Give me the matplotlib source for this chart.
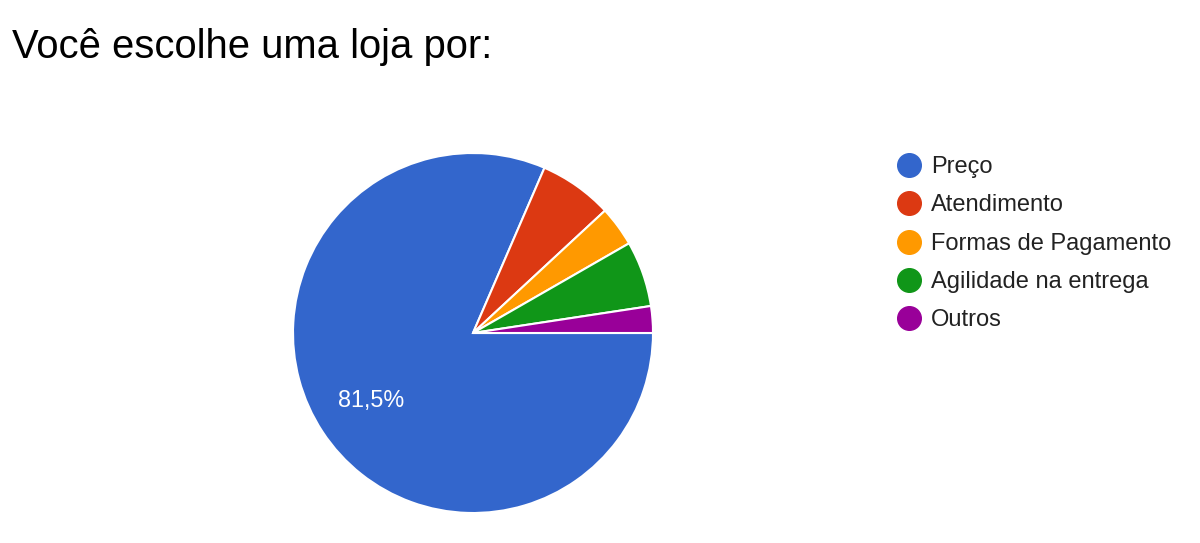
import matplotlib.pyplot as plt
from matplotlib.lines import Line2D

plt.rcParams['font.family'] = ['Liberation Sans', 'DejaVu Sans']

categorias = ['Preço', 'Atendimento', 'Formas de Pagamento', 'Agilidade na entrega', 'Outros']
valores = [81.5, 6.6, 3.6, 5.9, 2.4]
cores = ['#3366CC', '#DC3912', '#FF9900', '#109618', '#990099']

fig = plt.figure(figsize=(12, 5.43), dpi=100)

# pie centro ~(473, 333) px, raio ~180 px
cx, cy, r = 473, 333, 180
ax = fig.add_axes([(cx - r) / 1200, (543 - cy - r) / 543, 2 * r / 1200, 2 * r / 543])
wedges, textos, autotextos = ax.pie(
    valores, colors=cores, startangle=0, counterclock=False,
    autopct=lambda p: ('%.1f%%' % p).replace('.', ',') if p > 50 else '',
    pctdistance=0.68, radius=1.0,
    wedgeprops=dict(edgecolor='white', linewidth=1.5))
for t in autotextos:
    t.set_color('white')
    t.set_fontsize(16.8)
ax.set_xlim(-1.0, 1.0)
ax.set_ylim(-1.0, 1.0)
ax.set_aspect('equal')
ax.axis('off')

fig.text(12 / 1200, 1 - 58 / 543, 'Você escolhe uma loja por:', fontsize=28.8,
         va='baseline', ha='left', color='#000000')

# legenda manual
for i, (nome, cor) in enumerate(zip(categorias, cores)):
    y = 1 - (165 + i * 38.3) / 543
    fig.add_artist(Line2D([909 / 1200], [y], marker='o', markersize=17,
                          color=cor, linestyle='none', transform=fig.transFigure))
    fig.text(931 / 1200, y - 2 / 543, nome, fontsize=17, va='center', ha='left', color='#222222')

plt.savefig('out.png', dpi=100)
